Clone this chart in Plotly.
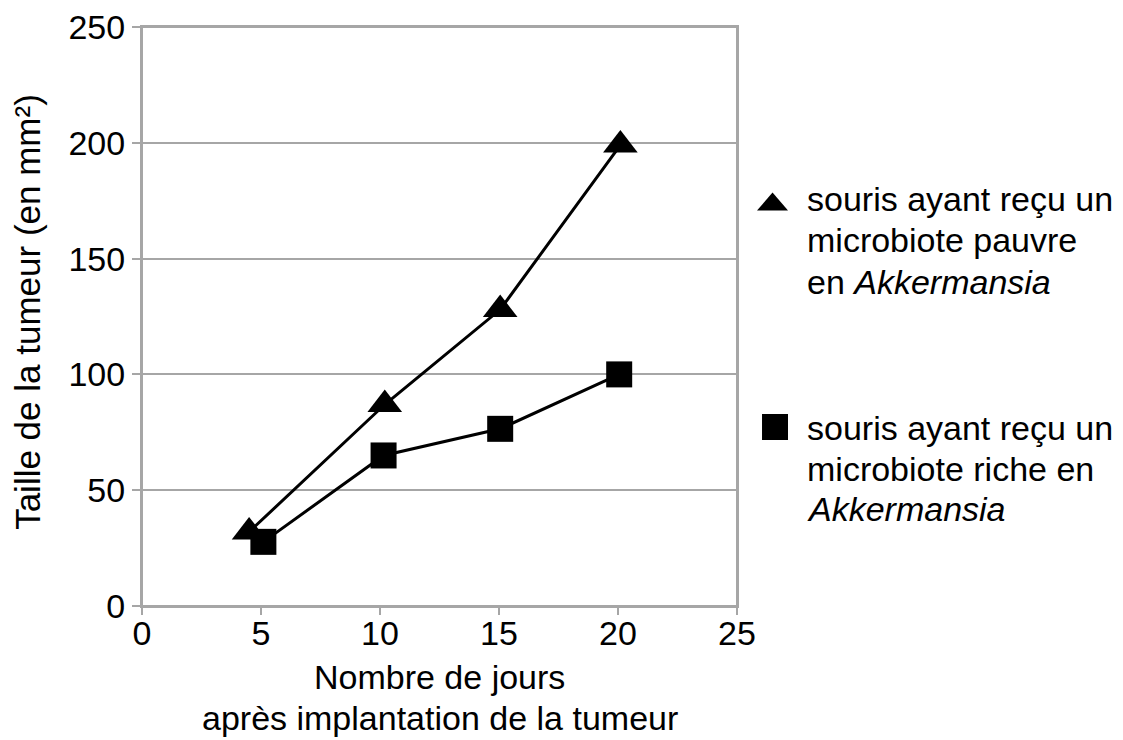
import plotly.graph_objects as go

# ---- Data ----
days_pauvre = [4.5, 10.2, 15.05, 20.1]
taille_pauvre = [32, 87, 128, 199]
days_riche = [5.1, 10.15, 15.05, 20.05]
taille_riche = [27.7, 65, 76.5, 100]

x_ticks = [0, 5, 10, 15, 20, 25]
y_ticks = [0, 50, 100, 150, 200, 250]

legend_pauvre = ["souris ayant reçu un", "microbiote pauvre", "en <i>Akkermansia</i>"]
legend_riche = ["souris ayant reçu un", "microbiote riche en", "<i>Akkermansia</i>"]
x_title = ["Nombre de jours", "après implantation de la tumeur"]
y_title = "Taille de la tumeur (en mm²)"

# ---- Layout / style constants ----
FONT = "Liberation Sans, Arial, sans-serif"
GRID = "#a6a6a6"
LEG_TRI_POS = (1.0597, 0.6986)   # paper coords of legend triangle glyph
LEG_SQ_POS = (1.0639, 0.3092)    # paper coords of legend square glyph
LEG_TEXT_X = 1.114
LEG_LINE_Y = [[0.703, 0.632, 0.560], [0.307, 0.237, 0.168]]
XT_Y = [-0.123, -0.193]

fig = go.Figure()
fig.add_trace(go.Scatter(
    x=days_pauvre, y=taille_pauvre, mode="lines+markers",
    line=dict(color="black", width=3),
    marker=dict(symbol="triangle-up", size=30, color="black"),
    showlegend=False, cliponaxis=False, name="pauvre"))
fig.add_trace(go.Scatter(
    x=days_riche, y=taille_riche, mode="lines+markers",
    line=dict(color="black", width=3),
    marker=dict(symbol="square", size=26, color="black"),
    showlegend=False, cliponaxis=False, name="riche"))

shapes = [
    # plot frame
    dict(type="rect", xref="paper", yref="paper", x0=0, y0=0, x1=1, y1=1,
         line=dict(color=GRID, width=2), layer="below"),
    # legend glyphs (pixel-sized, anchored in paper coords)
    dict(type="path", xref="paper", yref="paper",
         xsizemode="pixel", ysizemode="pixel",
         xanchor=LEG_TRI_POS[0], yanchor=LEG_TRI_POS[1],
         path="M-15.5,-9 L15.5,-9 L0,9 Z",
         fillcolor="black", line=dict(width=0)),
    dict(type="rect", xref="paper", yref="paper",
         xsizemode="pixel", ysizemode="pixel",
         xanchor=LEG_SQ_POS[0], yanchor=LEG_SQ_POS[1],
         x0=-13, x1=13, y0=-13, y1=13,
         fillcolor="black", line=dict(width=0)),
]

annotations = []
for lines, ys in zip([legend_pauvre, legend_riche], LEG_LINE_Y):
    for txt, yy in zip(lines, ys):
        annotations.append(dict(
            text=txt, xref="paper", yref="paper", x=LEG_TEXT_X, y=yy,
            xanchor="left", yanchor="middle", showarrow=False,
            font=dict(family=FONT, size=34, color="black")))
for txt, yy in zip(x_title, XT_Y):
    annotations.append(dict(
        text=txt, xref="paper", yref="paper", x=0.5, y=yy,
        xanchor="center", yanchor="middle", showarrow=False,
        font=dict(family=FONT, size=34, color="black")))
annotations.append(dict(
    text=y_title, textangle=-90, xref="paper", yref="paper",
    x=-0.1916, y=0.508, xanchor="center", yanchor="middle", showarrow=False,
    font=dict(family=FONT, size=35, color="black")))

fig.update_layout(
    width=1115, height=732,
    margin=dict(l=134, r=386, t=19, b=134, autoexpand=False),
    paper_bgcolor="white", plot_bgcolor="white",
    font=dict(family=FONT, size=34, color="black"),
    showlegend=False,
    xaxis=dict(range=[0, 25], tickvals=x_ticks, showgrid=False,
               zeroline=False, showline=True, linecolor=GRID, linewidth=2,
               mirror=True, ticks="outside", ticklen=7, tickcolor=GRID,
               tickwidth=2, tickfont=dict(size=34), ticklabelstandoff=-11,
               ticklabeloverflow="allow", automargin=False),
    yaxis=dict(range=[0, 250], tickvals=y_ticks, showgrid=True,
               gridcolor=GRID, gridwidth=2, zeroline=False, showline=True,
               linecolor=GRID, linewidth=2, mirror=True, ticks="outside",
               ticklen=8, tickcolor=GRID, tickwidth=2, tickfont=dict(size=34),
               ticklabeloverflow="allow", automargin=False),
    shapes=shapes,
    annotations=annotations,
)

fig.write_html("out.html")
